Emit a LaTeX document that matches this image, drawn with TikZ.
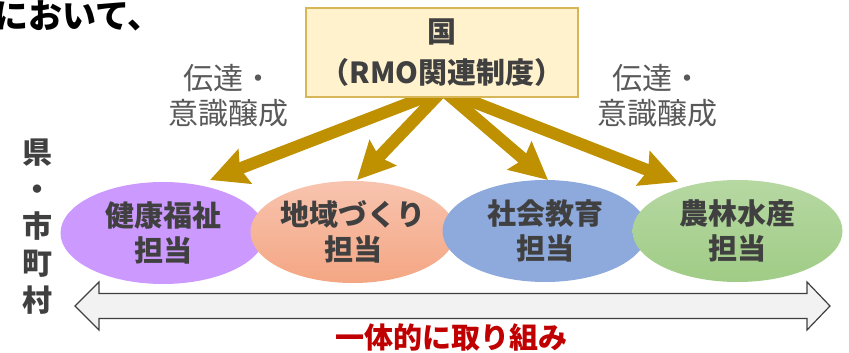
\documentclass[tikz,border=0pt]{standalone}
\usepackage{fontspec}
\setmainfont{Noto Sans CJK JP}
\usetikzlibrary{arrows.meta,shapes.geometric}
\definecolor{gold}{HTML}{BF9000}
\definecolor{boxfill}{HTML}{FFF2CC}
\definecolor{boxline}{HTML}{D6B656}
\definecolor{txt}{HTML}{404040}
\definecolor{lbl}{HTML}{595959}
\definecolor{purp}{HTML}{CC99FF}
\definecolor{salT}{HTML}{F8C4AF}
\definecolor{salB}{HTML}{F4A683}
\definecolor{blu}{HTML}{8EA9DB}
\definecolor{grnT}{HTML}{B6D8A2}
\definecolor{grnB}{HTML}{A0CC86}
\definecolor{redtxt}{HTML}{C00000}
\definecolor{arrfill}{HTML}{F2F2F2}
\definecolor{arrline}{HTML}{404040}
\begin{document}
\begin{tikzpicture}[x=1pt,y=-1pt,
  blob/.style={ellipse, minimum width=205pt, minimum height=102pt, inner sep=0pt,
    align=center, text=txt, font=\bfseries\fontsize{29}{35}\selectfont},
  bigarrow/.style={draw=gold, line width=12pt, -{Stealth[length=37pt,width=36pt,inset=5pt]}},
  lbltext/.style={align=center, text=lbl, inner sep=0pt, font=\fontsize{30}{35}\selectfont},
  boldtext/.style={align=center, text=txt, inner sep=0pt, font=\bfseries\fontsize{30}{37}\selectfont}
]
\useasboundingbox (0,0) rectangle (849,353);

% heading fragment
\node[anchor=east, inner sep=0pt, font=\bfseries\fontsize{34}{38}\selectfont] (head) at (162,16) {において、};

% side label
\node[boldtext] (side) at (37,227) {県\\・\\市\\町\\村};

% origin and tips
\coordinate (o) at (443,90);
\coordinate (t1) at (210,180);
\coordinate (t2) at (357,180);
\coordinate (t3) at (548,180);
\coordinate (t4) at (678,182);

% ellipses
\node[blob, fill=purp] (e1) at (163,233) {健康福祉\\担当};
\node[blob, top color=salT, bottom color=salB] (e2) at (353,232) {地域づくり\\担当};
\node[blob, fill=blu] (e3) at (545,231) {社会教育\\担当};
\node[blob, top color=grnT, bottom color=grnB, minimum width=210pt] (e4) at (737.5,231) {農林水産\\担当};

% arrows
\draw[bigarrow] (o) -- (t1);
\draw[bigarrow] (o) -- (t2);
\draw[bigarrow] (o) -- (t3);
\draw[bigarrow] (o) -- (t4);

% top box
\node[draw=boxline, fill=boxfill, line width=1.2pt, minimum width=272pt, minimum height=89pt,
  inner sep=0pt, align=center, text=txt, font=\bfseries\fontsize{29}{41}\selectfont]
  (kuni) at (442,52.5) {国\\（RMO関連制度）};

% labels
\node[lbltext] (l1) at (228,96) {伝達・\\意識醸成};
\node[lbltext] (l2) at (657,96) {伝達・\\意識醸成};

% double arrow
\draw[draw=arrline, fill=arrfill, line width=1.2pt, line join=miter]
  (75,306) -- (99,282) -- (99,293.5) -- (807,293.5) -- (807,282) -- (830,306)
  -- (807,330) -- (807,318.5) -- (99,318.5) -- (99,330) -- cycle;

% red text
\node[inner sep=0pt, text=redtxt, font=\bfseries\fontsize{29}{35}\selectfont] (together) at (451,337) {一体的に取り組み};
\end{tikzpicture}
\end{document}
